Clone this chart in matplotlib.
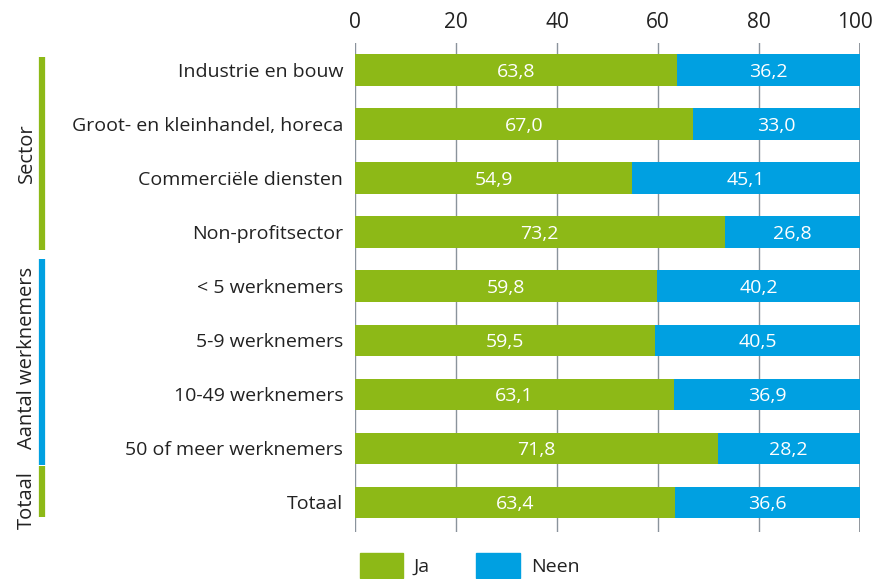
import matplotlib.pyplot as plt
import matplotlib.transforms as mtransforms
from matplotlib.patches import Rectangle

plt.rcParams['font.family'] = ['Open Sans', 'DejaVu Sans']

categories = ["Industrie en bouw", "Groot- en kleinhandel, horeca", "Commerciële diensten",
              "Non-profitsector", "< 5 werknemers", "5-9 werknemers", "10-49 werknemers",
              "50 of meer werknemers", "Totaal"]
ja = [63.8, 67.0, 54.9, 73.2, 59.8, 59.5, 63.1, 71.8, 63.4]
neen = [36.2, 33.0, 45.1, 26.8, 40.2, 40.5, 36.9, 28.2, 36.6]
groups = [("Sector", 0, 3, "#8DB917"), ("Aantal werknemers", 4, 7, "#00A0E1"), ("Totaal", 8, 8, "#8DB917")]

green = "#8DB917"
blue = "#00A0E1"
txt = "#222222"

fig = plt.figure(figsize=(8.75, 5.79), dpi=100)
ax = fig.add_axes([355/875, 1-532/579, 505/875, 489/579])

y = list(range(len(categories)))
ax.barh(y, ja, height=0.58, color=green, zorder=3)
ax.barh(y, neen, left=ja, height=0.58, color=blue, zorder=3)

for i in y:
    ax.text(ja[i]/2, i, f"{ja[i]:.1f}".replace(".", ","), ha="center", va="center_baseline",
            color="white", fontsize=14, zorder=4)
    ax.text(ja[i] + neen[i]/2, i, f"{neen[i]:.1f}".replace(".", ","), ha="center",
            va="center_baseline", color="white", fontsize=14, zorder=4)

ax.set_xlim(0, 100)
ax.set_ylim(8.55, -0.5)
ax.set_xticks([0, 20, 40, 60, 80, 100])
ax.xaxis.tick_top()
ax.tick_params(axis="x", length=0, labelsize=15, colors=txt, pad=7)
ax.set_yticks(y)
ax.set_yticklabels(categories)
ax.tick_params(axis="y", length=0, labelsize=14, colors=txt, pad=8.5)
for s in ax.spines.values():
    s.set_visible(False)
for xv in [0, 20, 40, 60, 80]:
    ax.axvline(xv, color="#8a939c", lw=1, zorder=1)
ax.axvline(100, color="#6e7780", lw=1.8, zorder=1)

# shift the "100" label a bit left so it stays inside the figure
lab = ax.get_xticklabels()[-1]
lab.set_transform(lab.get_transform() + mtransforms.ScaledTranslation(-5/100, 0, fig.dpi_scale_trans))

# group brackets on the left
tr = mtransforms.blended_transform_factory(fig.transFigure, ax.transData)
bounds = {"Sector": (-0.24, 3.33), "Aantal werknemers": (3.5, 7.31), "Totaal": (7.33, 8.28)}
label_y = {"Sector": 1.545, "Aantal werknemers": 5.33, "Totaal": 7.95}
for name, a, b, col in groups:
    y0, y1 = bounds[name]
    ax.plot([42/875, 42/875], [y0, y1], color=col, lw=4.5, transform=tr, clip_on=False,
            solid_capstyle="butt")
    ax.text(27/875, label_y[name], name, rotation=90, ha="center", va="center",
            fontsize=14.5, color=txt, transform=tr, clip_on=False)

# legend
fig.patches.append(Rectangle((360/875, 1-578/579), 43/875, 25/579, color=green,
                             transform=fig.transFigure))
fig.text(414/875, 1-567/579, "Ja", fontsize=14, color=txt, va="center")
fig.patches.append(Rectangle((476/875, 1-578/579), 44/875, 25/579, color=blue,
                             transform=fig.transFigure))
fig.text(531/875, 1-567/579, "Neen", fontsize=14, color=txt, va="center")

fig.savefig("out.png", dpi=100)
